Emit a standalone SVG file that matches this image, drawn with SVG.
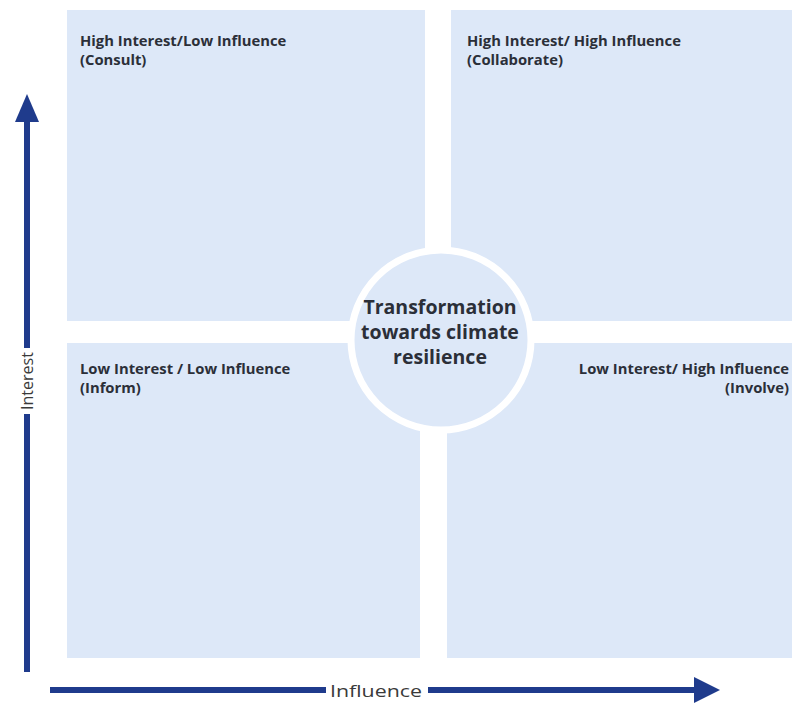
<svg xmlns="http://www.w3.org/2000/svg" width="792" height="711" viewBox="0 0 792 711">
<style>
.box{fill:#dde8f8}
.lbl{font-family:"Open Sans","Liberation Sans",sans-serif;font-weight:bold;font-size:14.8px;fill:#2b2f38}
.ctr{font-family:"Open Sans","Liberation Sans",sans-serif;font-weight:bold;font-size:19.5px;fill:#2b2f38;text-anchor:middle}
.ax{stroke:#1f3b8c;stroke-width:6;fill:none}
.axl{font-family:"Open Sans","Liberation Sans",sans-serif;font-size:16px;fill:#3a3a3a;text-anchor:middle}
</style>
<rect width="792" height="711" fill="#ffffff"/>
<g id="q-high-low">
<rect class="box" x="67" y="10" width="358" height="311"/>
<text class="lbl" x="80" y="46">High Interest/Low Influence</text>
<text class="lbl" x="80" y="65">(Consult)</text>
</g>
<g id="q-high-high">
<rect class="box" x="451" y="10" width="341" height="311"/>
<text class="lbl" x="467" y="46">High Interest/ High Influence</text>
<text class="lbl" x="467" y="65">(Collaborate)</text>
</g>
<g id="q-low-low">
<rect class="box" x="67" y="343" width="353" height="315"/>
<text class="lbl" x="80" y="374">Low Interest / Low Influence</text>
<text class="lbl" x="80" y="393">(Inform)</text>
</g>
<g id="q-low-high">
<rect class="box" x="447" y="343" width="345" height="315"/>
<text class="lbl" x="789" y="374" text-anchor="end">Low Interest/ High Influence</text>
<text class="lbl" x="789" y="393" text-anchor="end">(Involve)</text>
</g>
<g id="center">
<circle cx="441" cy="340" r="90" fill="#dde8f8" stroke="#ffffff" stroke-width="7"/>
<text class="ctr" x="440" y="314">Transformation</text>
<text class="ctr" x="440" y="339">towards climate</text>
<text class="ctr" x="440" y="364">resilience</text>
</g>
<g id="connectors">
<line class="ax" x1="27" y1="672" x2="27" y2="414"/>
<line class="ax" x1="27" y1="348" x2="27" y2="118"/>
<polygon points="27,94 15,122 39,122" fill="#1f3b8c"/>
<line class="ax" x1="50" y1="690" x2="326" y2="690"/>
<line class="ax" x1="428" y1="690" x2="698" y2="690"/>
<polygon points="720,690 694,677 694,703" fill="#1f3b8c"/>
</g>
<text class="axl" x="376" y="697" font-size="19" textLength="92" lengthAdjust="spacingAndGlyphs">Influence</text>
<text class="axl" transform="translate(33,381) rotate(-90)" x="0" y="0">Interest</text>
</svg>
